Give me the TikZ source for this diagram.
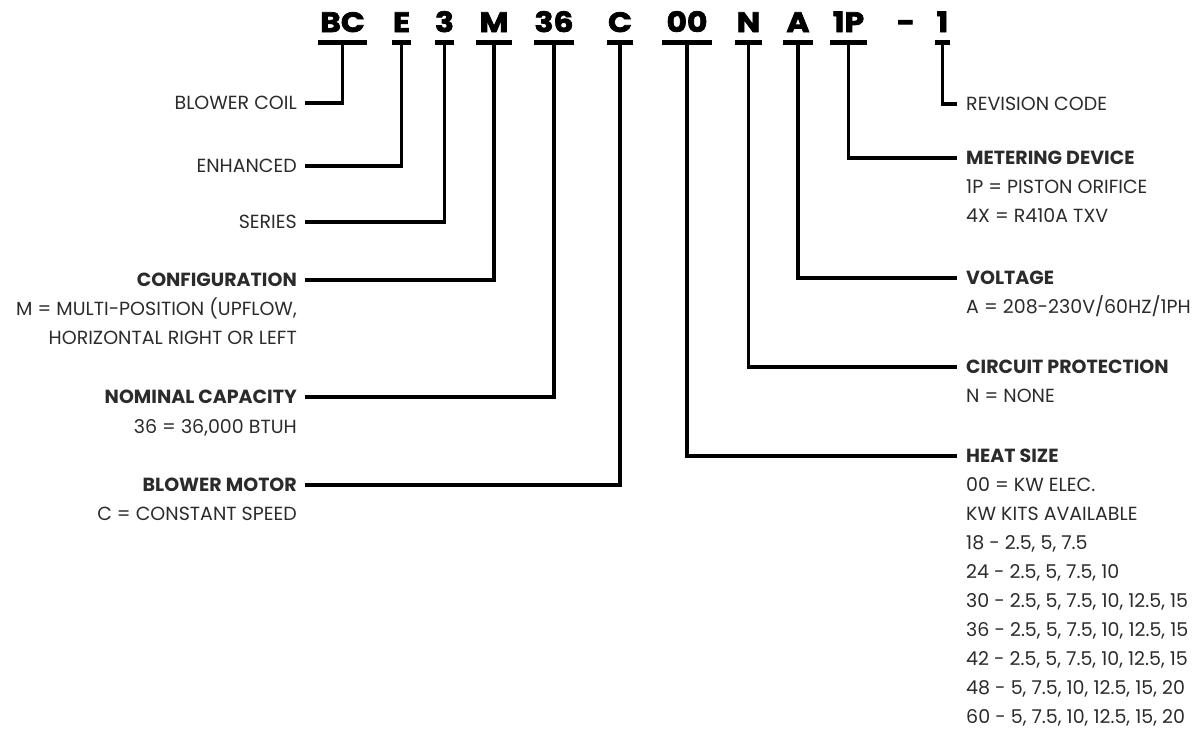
\documentclass[tikz,border=0pt]{standalone}
\usepackage{fontspec}
\setmainfont{Poppins}
\newfontfamily\codefont{Poppins}[BoldFeatures={FakeBold=2.5,FakeStretch=1.12}]
\definecolor{txt}{HTML}{2B2B2B}
\begin{document}
\begin{tikzpicture}[x=1pt,y=-1pt,
  code/.style={anchor=base, inner sep=0, font=\codefont\bfseries\fontsize{28}{30}\selectfont, text=black},
  lab/.style={inner sep=0, font=\fontsize{19}{22}\selectfont, text=txt},
  head/.style={lab, font=\bfseries\fontsize{19}{22}\selectfont},
  lt/.style={anchor=base east},
  rt/.style={anchor=base west},
  conn/.style={line width=3.6pt, line join=miter, black},
  uline/.style={line width=4.5pt, black}]
\useasboundingbox (0,0) rectangle (1197,734);

% code letters
\node[code] (cBC) at (342.5,32) {BC};
\node[code] (cE)  at (401.5,32) {E};
\node[code] (c3)  at (444.5,32) {3};
\node[code] (cM)  at (494,32) {M};
\node[code] (c36) at (554,32) {36};
\node[code] (cC)  at (620,32) {C};
\node[code] (c00) at (687,32) {00};
\node[code] (cN)  at (748.5,32) {N};
\node[code] (cA)  at (798,32) {A};
\node[code] (c1P) at (848.5,32) {1P};
\node[code] (cD)  at (906,32) {-};
\node[code] (c1)  at (942.5,32) {1};

% underlines
\foreach \n/\w in {cBC/24.5, cE/9.5, c3/9.5, cM/18, c36/20, cC/13, c00/25, cN/13.5, cA/15, c1P/18.5, c1/7.5}
  \draw[uline] ([shift={(-\w,10.5)}]\n.base) -- ([shift={(\w,10.5)}]\n.base);

% left labels (text right aligned at x=297)
\def\cy{6.7}
\node[lab,lt] (lBC) at (297,103+\cy) {BLOWER COIL};
\node[lab,lt] (lE)  at (297,166+\cy) {ENHANCED};
\node[lab,lt] (l3)  at (297,222+\cy) {SERIES};
\node[head,lt] (lM) at (297,280+\cy) {CONFIGURATION};
\node[lab,lt] (lM1) at (297,309+\cy) {M = MULTI-POSITION (UPFLOW,};
\node[lab,lt] (lM2) at (297,338+\cy) {HORIZONTAL RIGHT OR LEFT};
\node[head,lt] (l36) at (297,397+\cy) {NOMINAL CAPACITY};
\node[lab,lt] (l361) at (297,427+\cy) {36 = 36,000 BTUH};
\node[head,lt] (lC) at (297,485+\cy) {BLOWER MOTOR};
\node[lab,lt] (lC1) at (297,514+\cy) {C = CONSTANT SPEED};

% right labels (text left aligned at x=966)
\node[lab,rt] (r1) at (966,104+\cy) {REVISION CODE};
\node[head,rt] (r1P) at (966,158+\cy) {METERING DEVICE};
\node[lab,rt] (r1P1) at (966,187+\cy) {1P = PISTON ORIFICE};
\node[lab,rt] (r1P2) at (966,216+\cy) {4X = R410A TXV};
\node[head,rt] (rA) at (966,278+\cy) {VOLTAGE};
\node[lab,rt] (rA1) at (966,307+\cy) {A = 208-230V/60HZ/1PH};
\node[head,rt] (rN) at (966,367+\cy) {CIRCUIT PROTECTION};
\node[lab,rt] (rN1) at (966,396+\cy) {N = NONE};
\node[head,rt] (r00) at (966,456+\cy) {HEAT SIZE};
\node[lab,rt] (r001) at (966,485+\cy) {00 = KW ELEC.};
\node[lab,rt] (r002) at (966,514+\cy) {KW KITS AVAILABLE};
\node[lab,rt] (r003) at (966,543+\cy) {18 - 2.5, 5, 7.5};
\node[lab,rt] (r004) at (966,572+\cy) {24 - 2.5, 5, 7.5, 10};
\node[lab,rt] (r005) at (966,601+\cy) {30 - 2.5, 5, 7.5, 10, 12.5, 15};
\node[lab,rt] (r006) at (966,630+\cy) {36 - 2.5, 5, 7.5, 10, 12.5, 15};
\node[lab,rt] (r007) at (966,659+\cy) {42 - 2.5, 5, 7.5, 10, 12.5, 15};
\node[lab,rt] (r008) at (966,688+\cy) {48 - 5, 7.5, 10, 12.5, 15, 20};
\node[lab,rt] (r009) at (966,717+\cy) {60 - 5, 7.5, 10, 12.5, 15, 20};

% connectors, left side
\foreach \c/\l in {cBC/lBC, cE/lE, c3/l3, cM/lM, c36/l36, cC/lC}
  \draw[conn] ([yshift=-10.5pt]\c.base) |- ([xshift=8pt,yshift=\cy pt]\l.base east);
% connectors, right side
\foreach \c/\l in {c00/r00, cN/rN, cA/rA, c1P/r1P, c1/r1}
  \draw[conn] ([yshift=-10.5pt]\c.base) |- ([xshift=-9pt,yshift=\cy pt]\l.base west);
\end{tikzpicture}
\end{document}
